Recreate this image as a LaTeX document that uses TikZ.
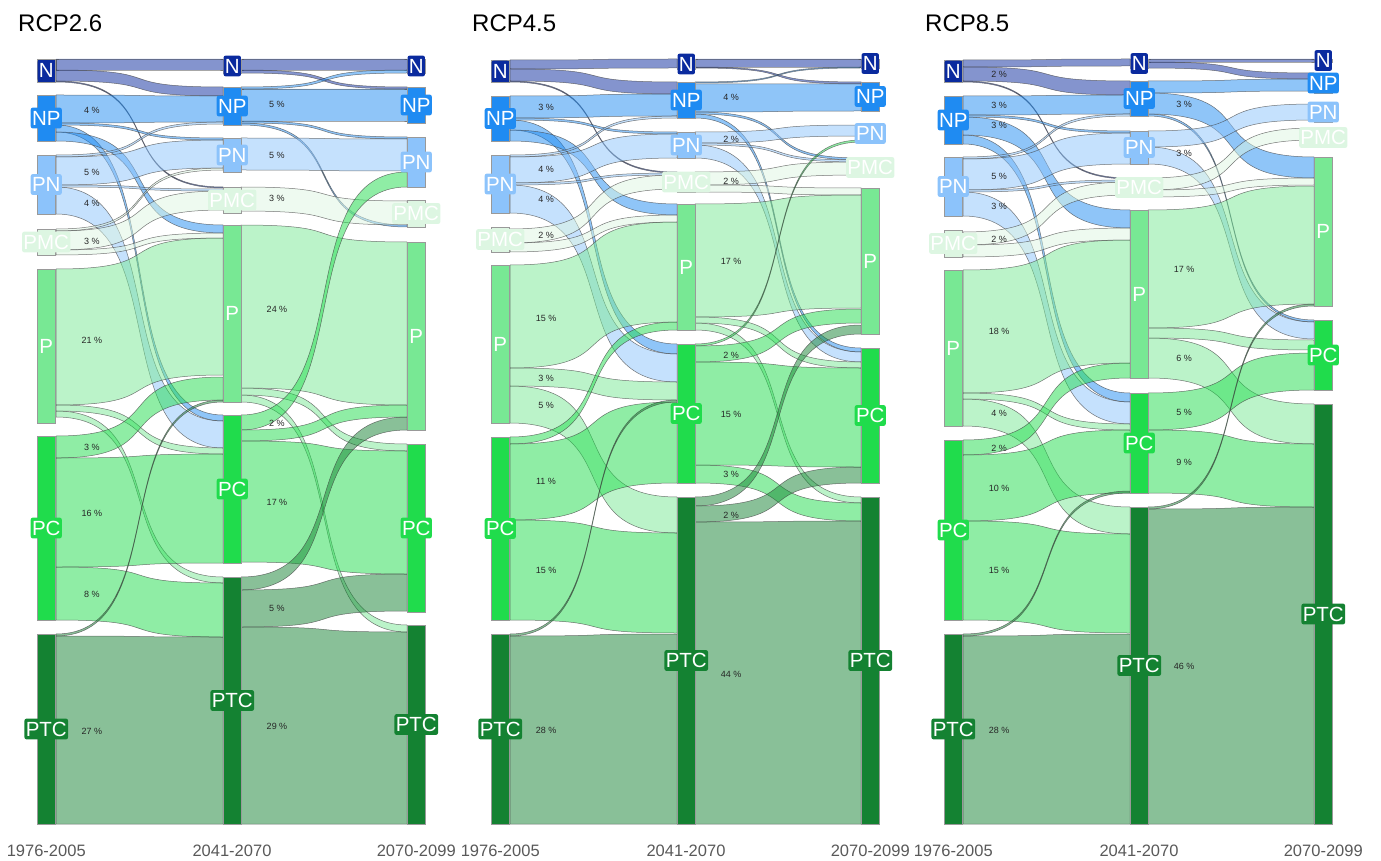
\documentclass[tikz,border=0pt]{standalone}
\usepackage{fontspec}
\setmainfont{Liberation Sans}
\usetikzlibrary{positioning}

\definecolor{cN}{HTML}{0A2A9E}
\definecolor{cNP}{HTML}{1F8BF2}
\definecolor{cPN}{HTML}{8CC3FB}
\definecolor{cPMC}{HTML}{DDF6E2}
\definecolor{cP}{HTML}{78E894}
\definecolor{cPC}{HTML}{20DC4C}
\definecolor{cPTC}{HTML}{148232}

% one ribbon: colour, x1, top1, bottom1, x2, top2, bottom2
\newcommand{\flowband}[7]{%
  \path[band, fill=#1] (#2,#3) .. controls ({#2+0.7*(#5-#2)},#3) and ({#5-0.7*(#5-#2)},#6) .. (#5,#6)
    -- (#5,#7) .. controls ({#5-0.7*(#5-#2)},#7) and ({#2+0.7*(#5-#2)},#4) .. (#2,#4) -- cycle;}
\newcommand{\flowlm}[5]{\flowband{#1}{19}{#2}{#3}{186}{#4}{#5}}
\newcommand{\flowmr}[5]{\flowband{#1}{204}{#2}{#3}{370}{#4}{#5}}
% one stratum: name, x, top, bottom, class
\newcommand{\stockbar}[5]{%
  \path[barbox, fill=c#5] (#2,#3) rectangle ({#2+18.5},#4);
  \node[tag, fill=c#5] (#1) at ({#2+9.25},{(#3+#4)/2}) {#5};}

\begin{document}
\begin{tikzpicture}[x=1pt, y=-1pt,
  band/.style={fill opacity=0.5, draw=black!75, draw opacity=0.7, line width=0.5pt},
  barbox/.style={draw=black!40, line width=0.4pt},
  tag/.style={rounded corners=2pt, text=white, inner xsep=1.3pt, inner ysep=3pt,
    text height=14.7pt, text depth=0pt, font=\fontsize{20.5}{20.5}\selectfont},
  pct/.style={font=\fontsize{9}{9}\selectfont, text=black!85, inner sep=0pt},
  period/.style={font=\fontsize{16.5}{16.5}\selectfont, text=black!65, inner sep=0pt},
  heading/.style={font=\fontsize{24}{24}\selectfont, anchor=west, inner sep=0pt}
]
\useasboundingbox (0,0) rectangle (1381,861);

% ---------------- RCP2.6
\begin{scope}[xshift=37pt]
  \node[heading] (a-title) at (-19,23) {RCP2.6};
  % 1976-2005 -> 2041-2070
  \flowlm{cN}{59}{70}{59}{70}
  \flowlm{cN}{70}{81}{87}{96}
  \flowlm{cN}{81}{82}{187}{188}
  \flowlm{cNP}{95}{123}{96}{122}
  \flowlm{cNP}{123}{125}{138}{140}
  \flowlm{cNP}{125}{132}{415}{421}
  \flowlm{cNP}{132}{141}{225}{233}
  \flowlm{cPN}{155}{157}{122}{124}
  \flowlm{cPN}{157}{185}{140}{168}
  \flowlm{cPN}{185}{187}{189}{191}
  \flowlm{cPN}{187}{214}{421}{448}
  \flowlm{cPMC}{229}{231}{168}{170}
  \flowlm{cPMC}{231}{250}{191}{210}
  \flowlm{cPMC}{250}{255}{233}{238}
  \flowlm{cP}{269}{405}{238}{375}
  \flowlm{cP}{405}{411}{448}{454}
  \flowlm{cP}{411}{417}{577}{583}
  \flowlm{cPC}{436}{458}{377}{400}
  \flowlm{cPC}{458}{567}{454}{563}
  \flowlm{cPC}{567}{620}{583}{637}
  \flowlm{cPTC}{634}{636}{400}{402}
  \flowlm{cPTC}{636}{824}{637}{824}
  % 2041-2070 -> 2070-2099
  \flowmr{cN}{59}{70}{59}{70}
  \flowmr{cN}{70}{73}{87}{89}
  \flowmr{cNP}{87}{89}{70}{73}
  \flowmr{cNP}{89}{121}{89}{121}
  \flowmr{cNP}{121}{123}{137}{139}
  \flowmr{cNP}{123}{125}{225}{227}
  \flowmr{cPN}{138}{170}{139}{171}
  \flowmr{cPMC}{187}{211}{201}{225}
  \flowmr{cP}{225}{388}{242}{405}
  \flowmr{cP}{388}{395}{444}{451}
  \flowmr{cP}{395}{402}{625}{632}
  \flowmr{cPC}{415}{430}{172}{187}
  \flowmr{cPC}{430}{441}{405}{417}
  \flowmr{cPC}{441}{562}{451}{574}
  \flowmr{cPTC}{577}{590}{417}{430}
  \flowmr{cPTC}{590}{627}{574}{611}
  \flowmr{cPTC}{627}{824}{632}{824}
  % strata
  \stockbar{a-n1}{0}{59}{82}{N}
  \stockbar{a-np1}{0}{95}{141}{NP}
  \stockbar{a-pn1}{0}{155}{214}{PN}
  \stockbar{a-pmc1}{0}{229}{255}{PMC}
  \stockbar{a-p1}{0}{269}{423}{P}
  \stockbar{a-pc1}{0}{436}{620}{PC}
  \stockbar{a-ptc1}{0}{634}{824}{PTC}
  \stockbar{a-n2}{186}{59}{73}{N}
  \stockbar{a-np2}{186}{87}{125}{NP}
  \stockbar{a-pn2}{186}{138}{172}{PN}
  \stockbar{a-pmc2}{186}{187}{213}{PMC}
  \stockbar{a-p2}{186}{225}{402}{P}
  \stockbar{a-pc2}{186}{415}{563}{PC}
  \stockbar{a-ptc2}{186}{577}{824}{PTC}
  \stockbar{a-n3}{370}{59}{73}{N}
  \stockbar{a-np3}{370}{87}{123}{NP}
  \stockbar{a-pn3}{370}{137}{187}{PN}
  \stockbar{a-pmc3}{370}{200}{227}{PMC}
  \stockbar{a-p3}{370}{242}{430}{P}
  \stockbar{a-pc3}{370}{444}{612}{PC}
  \stockbar{a-ptc3}{370}{625}{824}{PTC}
  % shares
  \foreach \y/\t [count=\i] in {110/4, 172/5, 203/4, 241/3, 340/21, 447/3, 513/16, 594/8, 731/27}
    \node[pct] (a-l\i) at (55,\y) {\t~\%};
  \foreach \y/\t [count=\i] in {104/5, 155/5, 198/3, 309/24, 423/2, 502/17, 608/5, 726/29}
    \node[pct] (a-m\i) at (240,\y) {\t~\%};
  \node[period] (a-y1) at (9.25,851) {1976-2005};
  \node[period] (a-y2) at (195,851) {2041-2070};
  \node[period] (a-y3) at (379.25,851) {2070-2099};
\end{scope}

% ---------------- RCP4.5
\begin{scope}[xshift=491pt]
  \node[heading] (b-title) at (-19,23) {RCP4.5};
  % 1976-2005 -> 2041-2070
  \flowlm{cN}{60}{69}{59}{68}
  \flowlm{cN}{69}{81}{82}{94}
  \flowlm{cN}{81}{82}{172}{173}
  \flowlm{cNP}{96}{118}{94}{116}
  \flowlm{cNP}{118}{120}{132}{134}
  \flowlm{cNP}{120}{130}{344}{354}
  \flowlm{cNP}{130}{141}{204}{215}
  \flowlm{cPN}{155}{157}{116}{118}
  \flowlm{cPN}{157}{183}{134}{158}
  \flowlm{cPN}{183}{185}{173}{175}
  \flowlm{cPN}{185}{213}{354}{382}
  \flowlm{cPMC}{229}{243}{175}{189}
  \flowlm{cPMC}{243}{252}{215}{222}
  \flowlm{cP}{265}{368}{222}{322}
  \flowlm{cP}{368}{386}{382}{400}
  \flowlm{cP}{386}{423}{497}{533}
  \flowlm{cPC}{437}{444}{322}{330}
  \flowlm{cPC}{444}{520}{402}{483}
  \flowlm{cPC}{520}{620}{533}{633}
  \flowlm{cPTC}{634}{636}{400}{402}
  \flowlm{cPTC}{636}{824}{634}{824}
  % 2041-2070 -> 2070-2099
  \flowmr{cN}{59}{67}{59}{67}
  \flowmr{cN}{67}{68}{82}{84}
  \flowmr{cNP}{82}{83}{67}{68}
  \flowmr{cNP}{84}{112}{84}{111}
  \flowmr{cNP}{112}{114}{158}{160}
  \flowmr{cNP}{114}{118}{348}{352}
  \flowmr{cPN}{132}{143}{125}{136}
  \flowmr{cPN}{143}{145}{160}{162}
  \flowmr{cPN}{145}{158}{352}{362}
  \flowmr{cPMC}{172}{185}{162}{175}
  \flowmr{cPMC}{185}{192}{188}{195}
  \flowmr{cP}{204}{317}{195}{308}
  \flowmr{cP}{317}{323}{362}{368}
  \flowmr{cP}{323}{330}{497}{503}
  \flowmr{cPC}{344}{346}{140}{142}
  \flowmr{cPC}{346}{362}{309}{323}
  \flowmr{cPC}{362}{465}{368}{467}
  \flowmr{cPC}{465}{483}{503}{521}
  \flowmr{cPTC}{497}{506}{325}{334}
  \flowmr{cPTC}{506}{522}{467}{483}
  \flowmr{cPTC}{522}{824}{521}{824}
  % strata
  \stockbar{b-n1}{0}{60}{82}{N}
  \stockbar{b-np1}{0}{96}{141}{NP}
  \stockbar{b-pn1}{0}{155}{213}{PN}
  \stockbar{b-pmc1}{0}{227}{252}{PMC}
  \stockbar{b-p1}{0}{265}{423}{P}
  \stockbar{b-pc1}{0}{437}{620}{PC}
  \stockbar{b-ptc1}{0}{634}{824}{PTC}
  \stockbar{b-n2}{186}{59}{69}{N}
  \stockbar{b-np2}{186}{82}{118}{NP}
  \stockbar{b-pn2}{186}{132}{158}{PN}
  \stockbar{b-pmc2}{186}{172}{192}{PMC}
  \stockbar{b-p2}{186}{204}{330}{P}
  \stockbar{b-pc2}{186}{344}{483}{PC}
  \stockbar{b-ptc2}{186}{497}{824}{PTC}
  \stockbar{b-n3}{370}{59}{68}{N}
  \stockbar{b-np3}{370}{82}{111}{NP}
  \stockbar{b-pn3}{370}{125}{142}{PN}
  \stockbar{b-pmc3}{370}{158}{177}{PMC}
  \stockbar{b-p3}{370}{188}{334}{P}
  \stockbar{b-pc3}{370}{348}{483}{PC}
  \stockbar{b-ptc3}{370}{497}{824}{PTC}
  % shares
  \foreach \y/\t [count=\i] in {107/3, 169/4, 199/4, 235/2, 318/15, 378/3, 405/5, 481/11, 570/15, 730/28}
    \node[pct] (b-l\i) at (55,\y) {\t~\%};
  \foreach \y/\t [count=\i] in {97/4, 139/2, 181/2, 261/17, 355/2, 414/15, 474/3, 515/2, 674/44}
    \node[pct] (b-m\i) at (240,\y) {\t~\%};
  \node[period] (b-y1) at (9.25,851) {1976-2005};
  \node[period] (b-y2) at (195,851) {2041-2070};
  \node[period] (b-y3) at (379.25,851) {2070-2099};
\end{scope}

% ---------------- RCP8.5
\begin{scope}[xshift=944pt]
  \node[heading] (c-title) at (-19,23) {RCP8.5};
  % 1976-2005 -> 2041-2070
  \flowlm{cN}{60}{67}{59}{66}
  \flowlm{cN}{67}{81}{81}{95}
  \flowlm{cN}{81}{82}{178}{179}
  \flowlm{cNP}{96}{115}{95}{114}
  \flowlm{cNP}{115}{117}{131}{133}
  \flowlm{cNP}{117}{135}{210}{228}
  \flowlm{cNP}{135}{144}{393}{402}
  \flowlm{cPN}{157}{159}{114}{116}
  \flowlm{cPN}{159}{190}{133}{164}
  \flowlm{cPN}{190}{192}{180}{182}
  \flowlm{cPN}{192}{216}{402}{424}
  \flowlm{cPMC}{232}{245}{182}{195}
  \flowlm{cPMC}{245}{257}{228}{240}
  \flowlm{cP}{270}{393}{240}{363}
  \flowlm{cP}{393}{399}{424}{430}
  \flowlm{cP}{399}{426}{507}{534}
  \flowlm{cPC}{440}{455}{363}{378}
  \flowlm{cPC}{455}{521}{430}{493}
  \flowlm{cPC}{521}{620}{534}{633}
  \flowlm{cPTC}{634}{636}{491}{493}
  \flowlm{cPTC}{636}{824}{634}{824}
  % 2041-2070 -> 2070-2099
  \flowmr{cN}{59}{62}{59}{62}
  \flowmr{cN}{62}{68}{73}{79}
  \flowmr{cNP}{81}{93}{79}{91}
  \flowmr{cNP}{93}{114}{157}{178}
  \flowmr{cNP}{114}{116}{320}{322}
  \flowmr{cPN}{131}{147}{104}{120}
  \flowmr{cPN}{147}{164}{322}{339}
  \flowmr{cPMC}{178}{190}{128}{140}
  \flowmr{cPMC}{190}{197}{178}{185}
  \flowmr{cP}{210}{328}{186}{304}
  \flowmr{cP}{328}{338}{340}{350}
  \flowmr{cP}{338}{378}{404}{444}
  \flowmr{cPC}{393}{430}{353}{390}
  \flowmr{cPC}{430}{493}{444}{507}
  \flowmr{cPTC}{507}{509}{304}{306}
  \flowmr{cPTC}{509}{824}{507}{824}
  % strata
  \stockbar{c-n1}{0}{60}{82}{N}
  \stockbar{c-np1}{0}{96}{144}{NP}
  \stockbar{c-pn1}{0}{157}{216}{PN}
  \stockbar{c-pmc1}{0}{230}{257}{PMC}
  \stockbar{c-p1}{0}{270}{426}{P}
  \stockbar{c-pc1}{0}{440}{620}{PC}
  \stockbar{c-ptc1}{0}{634}{824}{PTC}
  \stockbar{c-n2}{186}{59}{68}{N}
  \stockbar{c-np2}{186}{81}{116}{NP}
  \stockbar{c-pn2}{186}{131}{164}{PN}
  \stockbar{c-pmc2}{186}{178}{197}{PMC}
  \stockbar{c-p2}{186}{210}{378}{P}
  \stockbar{c-pc2}{186}{393}{493}{PC}
  \stockbar{c-ptc2}{186}{507}{824}{PTC}
  \stockbar{c-n3}{370}{59}{62}{N}
  \stockbar{c-np3}{370}{73}{93}{NP}
  \stockbar{c-pn3}{370}{102}{122}{PN}
  \stockbar{c-pmc3}{370}{128}{147}{PMC}
  \stockbar{c-p3}{370}{157}{306}{P}
  \stockbar{c-pc3}{370}{320}{390}{PC}
  \stockbar{c-ptc3}{370}{404}{824}{PTC}
  % shares
  \foreach \y/\t [count=\i] in {74/2, 105/3, 125/3, 176/5, 206/3, 239/2, 331/18, 413/4, 448/2, 488/10, 570/15, 730/28}
    \node[pct] (c-l\i) at (55,\y) {\t~\%};
  \foreach \y/\t [count=\i] in {104/3, 153/3, 269/17, 358/6, 412/5, 462/9, 666/46}
    \node[pct] (c-m\i) at (240,\y) {\t~\%};
  \node[period] (c-y1) at (9.25,851) {1976-2005};
  \node[period] (c-y2) at (195,851) {2041-2070};
  \node[period] (c-y3) at (379.25,851) {2070-2099};
\end{scope}
\end{tikzpicture}
\end{document}
